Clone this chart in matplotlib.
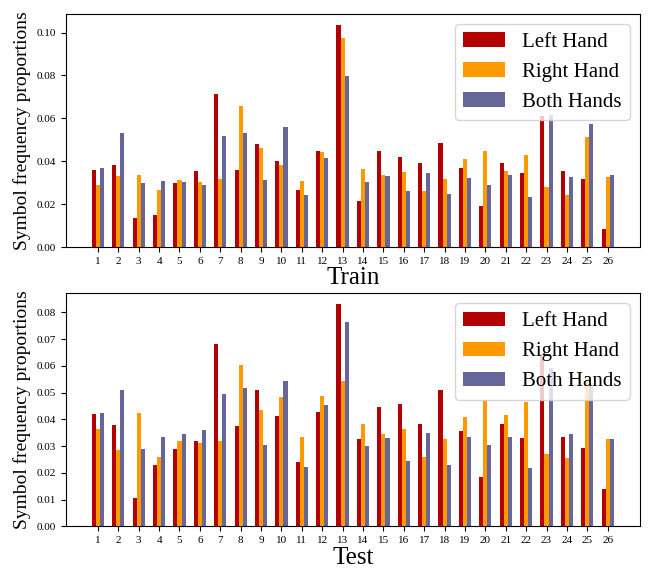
import numpy as np
import matplotlib
matplotlib.use('Agg')
import matplotlib.pyplot as plt

plt.rcParams['font.family'] = 'serif'
plt.rcParams['font.serif'] = ['Liberation Serif', 'DejaVu Serif']

symbols = [str(i) for i in range(1, 27)]
hands = ['Left Hand', 'Right Hand', 'Both Hands']
colors = ['#b30000', '#ff9900', '#666699']

train_left = [0.0358, 0.0382, 0.0134, 0.0148, 0.0298, 0.0354, 0.0714, 0.0358, 0.0480, 0.0400,
              0.0265, 0.0447, 0.1036, 0.0214, 0.0447, 0.0419, 0.0391, 0.0485, 0.0368, 0.0190,
              0.0391, 0.0344, 0.0611, 0.0354, 0.0317, 0.0087]
train_right = [0.0288, 0.0330, 0.0335, 0.0265, 0.0312, 0.0302, 0.0317, 0.0658, 0.0461, 0.0382,
               0.0307, 0.0443, 0.0975, 0.0363, 0.0335, 0.0349, 0.0260, 0.0317, 0.0410, 0.0447,
               0.0354, 0.0428, 0.0279, 0.0242, 0.0513, 0.0326]
train_both = [0.0368, 0.0531, 0.0298, 0.0307, 0.0302, 0.0288, 0.0517, 0.0531, 0.0312, 0.0560,
              0.0242, 0.0414, 0.0798, 0.0302, 0.0330, 0.0260, 0.0344, 0.0246, 0.0321, 0.0288,
              0.0335, 0.0232, 0.0615, 0.0326, 0.0573, 0.0335]

test_left = [0.0419, 0.0378, 0.0108, 0.0228, 0.0288, 0.0321, 0.0681, 0.0374, 0.0509, 0.0411,
             0.0239, 0.0426, 0.0831, 0.0325, 0.0445, 0.0456, 0.0381, 0.0509, 0.0355, 0.0183,
             0.0381, 0.0329, 0.0644, 0.0336, 0.0295, 0.0141]
test_right = [0.0366, 0.0284, 0.0423, 0.0258, 0.0318, 0.0310, 0.0321, 0.0603, 0.0434, 0.0483,
              0.0333, 0.0486, 0.0543, 0.0381, 0.0344, 0.0366, 0.0261, 0.0325, 0.0408, 0.0471,
              0.0415, 0.0464, 0.0269, 0.0254, 0.0550, 0.0325]
test_both = [0.0423, 0.0509, 0.0288, 0.0333, 0.0344, 0.0359, 0.0494, 0.0516, 0.0306, 0.0543,
             0.0224, 0.0453, 0.0764, 0.0299, 0.0329, 0.0246, 0.0348, 0.0228, 0.0336, 0.0303,
             0.0336, 0.0220, 0.0591, 0.0344, 0.0535, 0.0325]


def plot_panel(ax, series, xlabel):
    x = np.arange(len(symbols))
    width = 0.2
    for idx, values in enumerate(series):
        ax.bar(x + (idx - 1) * width, values, width, color=colors[idx], label=hands[idx])
    ax.set_xticks(x)
    ax.set_xticklabels(symbols)
    ax.tick_params(labelsize=8)
    ax.set_ylabel('Symbol frequency proportions', fontsize=14)
    ax.set_xlabel(xlabel, fontsize=18, labelpad=1)
    ax.legend(loc='upper right', fontsize=15)


fig = plt.figure(figsize=(6.57, 5.71), dpi=100)
ax1 = fig.add_axes([0.100, 0.567, 0.874, 0.409])
ax2 = fig.add_axes([0.100, 0.078, 0.874, 0.409])
plot_panel(ax1, [train_left, train_right, train_both], 'Train')
plot_panel(ax2, [test_left, test_right, test_both], 'Test')
fig.savefig('out.png', dpi=100)
